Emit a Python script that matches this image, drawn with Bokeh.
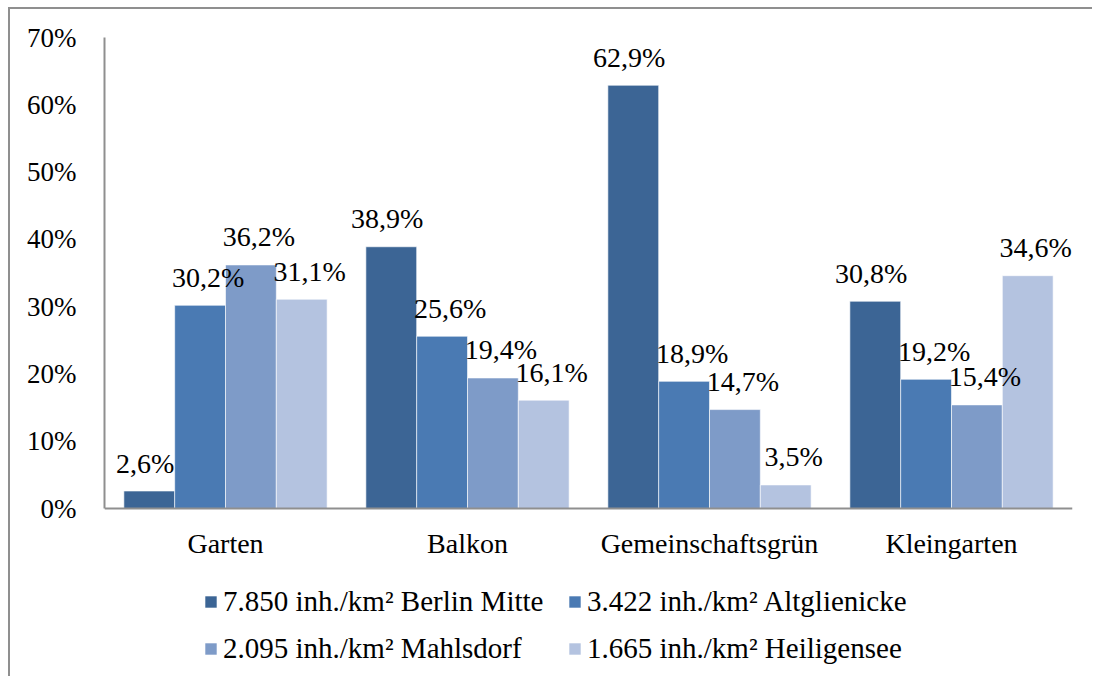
from bokeh.plotting import figure
from bokeh.models import (ColumnDataSource, FactorRange, Range1d, FixedTicker,
                          NumeralTickFormatter, Legend, LegendItem)
from bokeh.transform import dodge
from bokeh.core.properties import value
from bokeh.embed import file_html
from bokeh.resources import INLINE

categories = ["Garten", "Balkon", "Gemeinschaftsgrün", "Kleingarten"]
series_names = ["7.850 inh./km² Berlin Mitte", "3.422 inh./km² Altglienicke",
                "2.095 inh./km² Mahlsdorf", "1.665 inh./km² Heiligensee"]
berlin_mitte = [2.6, 38.9, 62.9, 30.8]
altglienicke = [30.2, 25.6, 18.9, 19.2]
mahlsdorf = [36.2, 19.4, 14.7, 15.4]
heiligensee = [31.1, 16.1, 3.5, 34.6]
y_ticks = [0, 10, 20, 30, 40, 50, 60, 70]

series_values = [berlin_mitte, altglienicke, mahlsdorf, heiligensee]
colors = ["#3c6595", "#4a7ab3", "#7e9bc8", "#b4c3e0"]
offsets = [-0.315, -0.105, 0.105, 0.315]
label_dx = [-4, 8, 8, 8]
FONT = "'Liberation Serif', 'Times New Roman', serif"

# layout in pixels: bar area is 471 px high, empty band of 170 px below it
Y_MAX = 0.70
AREA_PX = 471
BAND_PX = 170
y_start = -Y_MAX * BAND_PX / AREA_PX

p = figure(x_range=FactorRange(factors=categories, range_padding=0),
           y_range=Range1d(y_start, Y_MAX),
           width=1084, height=669, output_backend="svg", toolbar_location=None,
           min_border_left=94, min_border_right=22, min_border_top=28,
           min_border_bottom=0,
           styles={"margin-left": "8px", "margin-top": "7px",
                   "border-left": "2px solid #8f8f8f", "border-top": "2px solid #8f8f8f"})
p.outline_line_color = None
p.xgrid.grid_line_color = None
p.ygrid.grid_line_color = None

sources = []
items = []
for i, (name, vals) in enumerate(zip(series_names, series_values)):
    src = ColumnDataSource(dict(
        cat=categories,
        val=[v / 100 for v in vals],
        lab=[f"{v:.1f}%".replace(".", ",") for v in vals],
    ))
    sources.append(src)
    r = p.vbar(x=dodge("cat", offsets[i], range=p.x_range), top="val", width=0.21,
               source=src, fill_color=colors[i], line_color="white", line_width=0.6)
    items.append(LegendItem(label=name, renderers=[r]))

for i, src in enumerate(sources):
    p.text(x=dodge("cat", offsets[i], range=p.x_range), y="val", text="lab", source=src,
           text_align="center", text_baseline="alphabetic", x_offset=label_dx[i], y_offset=-28,
           text_font=value(FONT), text_font_size="28px", text_color="black", level="overlay")

p.yaxis.ticker = FixedTicker(ticks=[t / 100 for t in y_ticks])
p.yaxis.formatter = NumeralTickFormatter(format="0%")
p.yaxis.bounds = (0, Y_MAX)
p.xaxis.fixed_location = 0
for ax in (p.xaxis[0], p.yaxis[0]):
    ax.axis_line_color = "#8f8f8f"
    ax.axis_line_width = 2
    ax.major_tick_line_color = None
    ax.minor_tick_line_color = None
    ax.major_label_text_font = FONT
    ax.major_label_text_font_size = "28px"
    ax.major_label_text_color = "black"
p.yaxis.major_label_text_font_size = "27px"
p.yaxis.major_label_standoff = 22
p.xaxis.major_label_standoff = 13

legend = Legend(items=items, orientation="horizontal", nrows=2,
                label_text_font=FONT, label_text_font_size="29px",
                label_text_color="black", glyph_width=15, glyph_height=15,
                label_standoff=5, label_width=330, spacing=14, padding=6, margin=0,
                border_line_color=None, background_fill_alpha=0,
                location=(99, 13))
p.add_layout(legend)

open("out.html", "w").write(file_html(p, INLINE))
